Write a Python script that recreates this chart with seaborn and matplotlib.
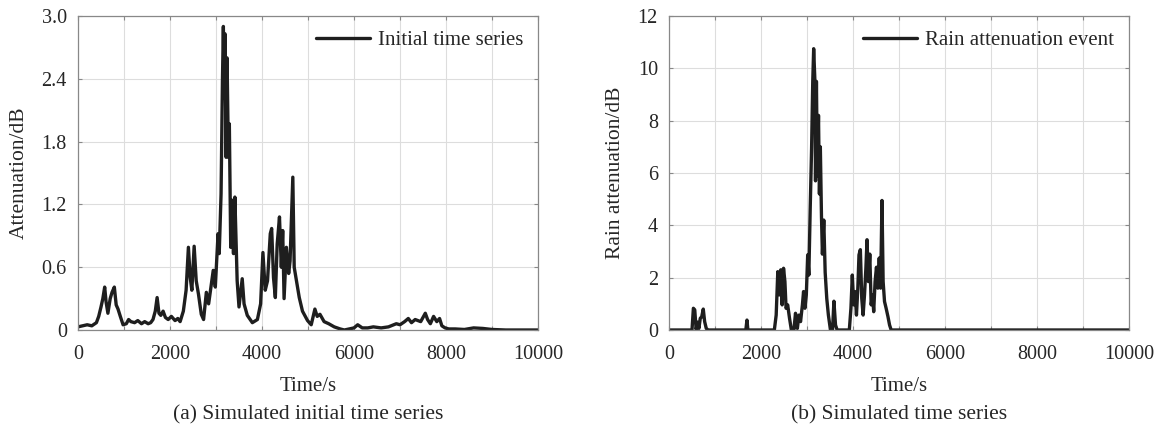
import matplotlib.pyplot as plt
import seaborn as sns
import pandas as pd

# (a) initial simulated time series
t_initial = [0, 100, 200, 300, 400, 450, 500, 540, 580, 610, 650, 700, 740, 790, 830, 870, 920, 980,
             1050, 1100, 1150, 1230, 1300, 1380, 1450, 1525, 1580, 1630, 1680, 1720, 1760, 1800, 1850,
             1900, 1960, 2030, 2110, 2170, 2220, 2290, 2350, 2400, 2440, 2475, 2525, 2570, 2620, 2680,
             2730, 2790, 2840, 2890, 2940, 2985, 3045, 3070, 3110, 3140, 3160, 3180, 3195, 3220, 3240,
             3270, 3290, 3320, 3350, 3380, 3410, 3460, 3500, 3570, 3610, 3680, 3790, 3900, 3970, 4020,
             4070, 4120, 4180, 4210, 4250, 4290, 4330, 4380, 4420, 4450, 4480, 4530, 4580, 4610, 4670,
             4700, 4750, 4810, 4880, 4990, 5070, 5150, 5200, 5260, 5350, 5450, 5570, 5700, 5790, 5900,
             6000, 6080, 6180, 6300, 6420, 6590, 6750, 6920, 7000, 7100, 7180, 7250, 7330, 7450, 7550,
             7600, 7660, 7730, 7800, 7860, 7910, 7980, 8060, 8200, 8400, 8600, 8800, 9000, 9300, 9600,
             10000]
a_initial = [0.03, 0.04, 0.05, 0.04, 0.07, 0.13, 0.22, 0.30, 0.41, 0.27, 0.16, 0.30, 0.36, 0.41, 0.24,
             0.20, 0.13, 0.05, 0.06, 0.10, 0.08, 0.07, 0.09, 0.06, 0.08, 0.06, 0.07, 0.10, 0.18, 0.31,
             0.16, 0.14, 0.18, 0.12, 0.10, 0.13, 0.09, 0.11, 0.08, 0.18, 0.38, 0.79, 0.50, 0.38, 0.80,
             0.47, 0.34, 0.15, 0.10, 0.36, 0.25, 0.41, 0.57, 0.41, 0.92, 0.73, 1.30, 2.38, 2.90, 2.22,
             2.83, 1.65, 2.60, 1.65, 1.97, 0.79, 1.24, 0.73, 1.27, 0.47, 0.22, 0.49, 0.25, 0.14, 0.07,
             0.10, 0.25, 0.74, 0.38, 0.47, 0.92, 0.97, 0.50, 0.31, 0.82, 1.08, 0.60, 0.95, 0.30, 0.79,
             0.54, 0.66, 1.46, 0.60, 0.47, 0.31, 0.18, 0.09, 0.05, 0.20, 0.13, 0.15, 0.08, 0.06, 0.03,
             0.01, 0.00, 0.01, 0.02, 0.05, 0.02, 0.02, 0.03, 0.02, 0.03, 0.06, 0.05, 0.08, 0.11, 0.07,
             0.10, 0.08, 0.16, 0.10, 0.06, 0.13, 0.08, 0.11, 0.04, 0.02, 0.01, 0.01, 0.005, 0.02, 0.015,
             0.005, 0.0, 0.0, 0.0]

# (b) rain attenuation event
t_event = [0, 500, 530, 560, 590, 620, 650, 680, 710, 745, 775, 810, 850, 1670, 1695, 1715, 2290, 2330,
           2365, 2400, 2430, 2460, 2490, 2520, 2545, 2580, 2620, 2660, 2715, 2750, 2790, 2825, 2860, 2900,
           2925, 2955, 2985, 3015, 3040, 3070, 3100, 3125, 3145, 3170, 3185, 3205, 3225, 3250, 3270, 3290,
           3315, 3335, 3365, 3395, 3430, 3465, 3510, 3555, 3585, 3620, 3655, 3920, 3955, 3985, 4015, 4045,
           4075, 4105, 4130, 4160, 4190, 4220, 4250, 4280, 4305, 4335, 4365, 4395, 4425, 4450, 4480, 4510,
           4540, 4570, 4600, 4630, 4655, 4685, 4720, 4760, 4795, 4830, 10000]
a_event = [0, 0, 0.83, 0.77, 0.02, 0.30, 0.06, 0.45, 0.50, 0.80, 0.32, 0.06, 0, 0, 0.38, 0, 0, 0.57,
           2.23, 1.34, 2.30, 0.96, 2.36, 1.85, 0.83, 0.96, 0.45, 0, 0, 0.64, 0.06, 0.57, 0.32, 0.96,
           1.47, 0.83, 1.34, 2.87, 2.10, 4.66, 6.96, 9.50, 10.75, 9.60, 5.70, 9.50, 5.90, 8.20, 5.20, 7.00,
           4.30, 2.90, 4.20, 2.20, 1.20, 0.57, 0, 0, 1.10, 0.19, 0, 0, 0.83, 2.10, 0.96, 1.47,
           0.57, 1.60, 2.87, 3.07, 1.21, 0.57, 1.34, 2.36, 3.45, 1.85, 2.90, 0.96, 1.34, 0.70, 1.85, 2.40,
           1.60, 2.75, 1.60, 4.95, 1.85, 1.09, 0.83, 0.51, 0.19, 0, 0]

df_a = pd.DataFrame({'Time': t_initial, 'Att': a_initial, 'name': 'Initial time series'})
df_b = pd.DataFrame({'Time': t_event, 'Att': a_event, 'name': 'Rain attenuation event'})

sns.set_style("ticks")
plt.rcParams['font.family'] = ['Liberation Serif', 'DejaVu Serif']

fig = plt.figure(figsize=(11.64, 4.34), dpi=100)
ax1 = fig.add_axes([78 / 1164, 104 / 434, 460 / 1164, 314 / 434])
ax2 = fig.add_axes([669 / 1164, 104 / 434, 460 / 1164, 314 / 434])

panels = [
    (ax1, df_a, [0, 0.6, 1.2, 1.8, 2.4, 3.0], ['0', '0.6', '1.2', '1.8', '2.4', '3.0'], 3.0,
     'Attenuation/dB', '(a) Simulated initial time series'),
    (ax2, df_b, [0, 2, 4, 6, 8, 10, 12], ['0', '2', '4', '6', '8', '10', '12'], 12,
     'Rain attenuation/dB', '(b) Simulated time series'),
]

for ax, df, yt, ytl, ymax, ylab, cap in panels:
    sns.lineplot(data=df, x='Time', y='Att', hue='name', palette=['#1e1e1e'], linewidth=2.4,
                 estimator=None, sort=False, ax=ax)
    ax.set_xlim(0, 10000)
    ax.set_ylim(0, ymax)
    ax.set_xticks(range(0, 10001, 2000))
    ax.set_xticks(range(1000, 10000, 2000), minor=True)
    ax.set_yticks(yt)
    ax.set_yticklabels(ytl)
    ax.grid(True, which='both', color='#dddddd', linewidth=0.8)
    ax.set_axisbelow(True)
    ax.tick_params(which='both', direction='in', length=3, width=0.8, color='#888888',
                   top=True, right=True, labelsize=14.5)
    ax.tick_params(axis='x', pad=11)
    ax.tick_params(axis='y', pad=8)
    for s in ax.spines.values():
        s.set_color('#888888')
        s.set_linewidth(0.9)
    ax.set_xlabel('Time/s', fontsize=15, labelpad=9)
    ax.set_ylabel(ylab, fontsize=15.5, labelpad=9)
    ax.legend(loc='upper right', frameon=False, fontsize=15, handlelength=2.6,
              handletextpad=0.4, borderaxespad=0.3)
    pos = ax.get_position()
    fig.text(pos.x0 + pos.width / 2, 0.045, cap, ha='center', va='center', fontsize=15.5)

fig.savefig('out.png', dpi=100)
